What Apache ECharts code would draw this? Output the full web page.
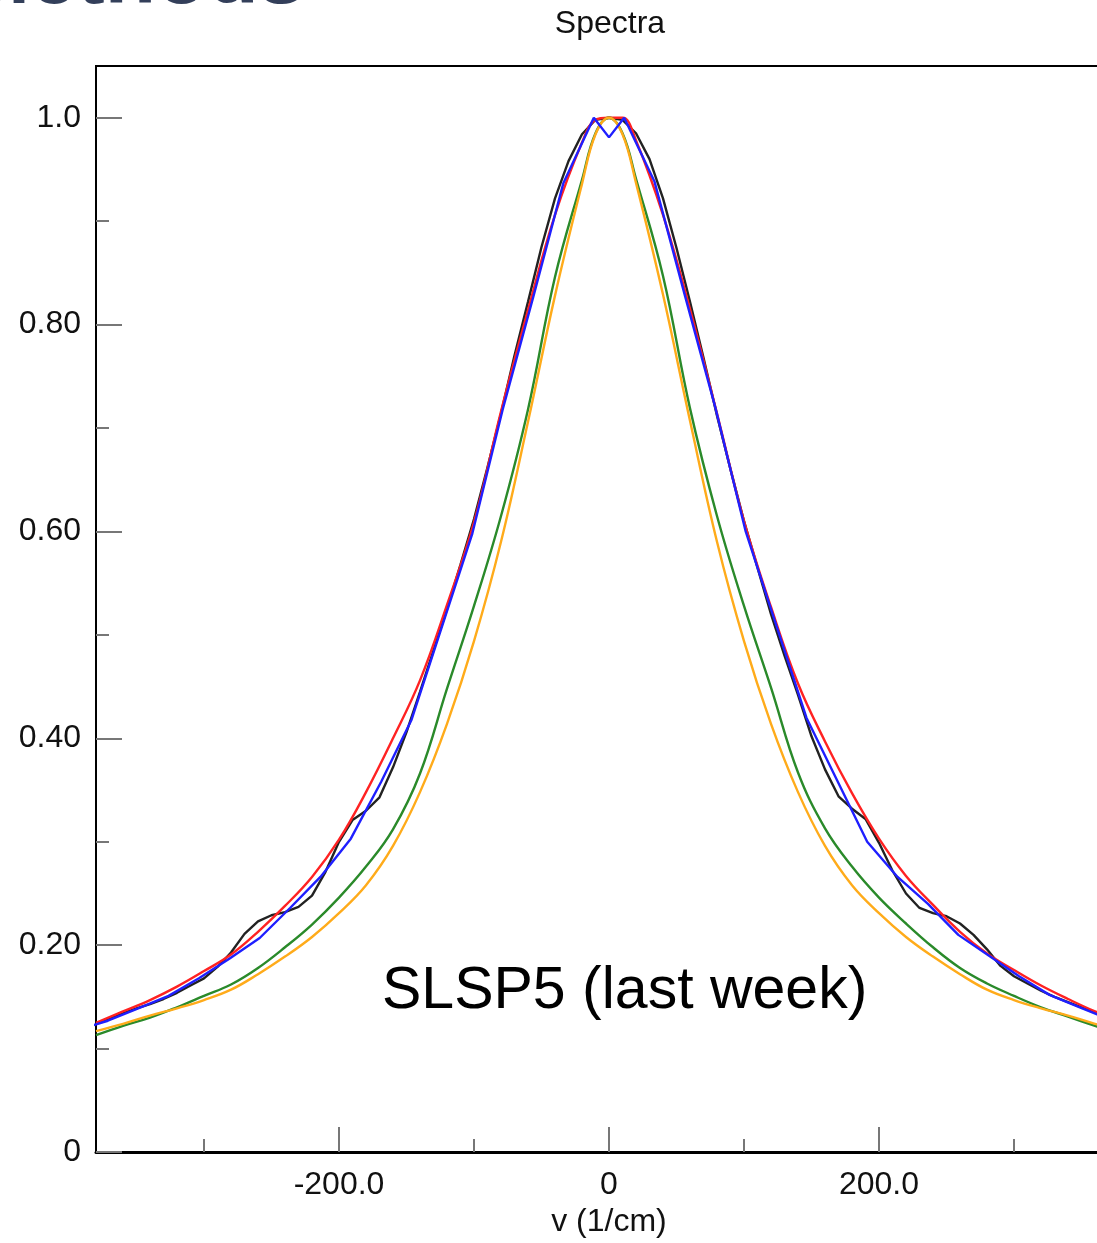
<!DOCTYPE html>
<html>
<head>
<meta charset="utf-8">
<script src="https://cdn.jsdelivr.net/npm/echarts@6/dist/echarts.min.js"></script>
<style>
  html, body { margin: 0; padding: 0; background: #fff; overflow: hidden; }
  #chart { width: 1150px; height: 1243px; }
</style>
</head>
<body>
<div id="chart"></div>
<script>
// x positions shared by the smooth model curves (red / green / orange)
const xs = [-380, -360, -340, -320, -300, -280, -260, -240, -220, -200, -180, -160, -140, -120, -100, -80, -60, -40, -20, -10,
  0, 10, 20, 40, 60, 80, 100, 120, 140, 160, 180, 200, 220, 240, 260, 280, 300, 320, 340, 360, 380];

const redVals = [0.125, 0.136, 0.147, 0.160, 0.175, 0.191, 0.213, 0.238, 0.266, 0.302, 0.348, 0.400, 0.456, 0.529, 0.609, 0.716, 0.814, 0.906, 0.976, 0.998,
  1.0, 1.0, 0.978, 0.906, 0.815, 0.714, 0.610, 0.527, 0.453, 0.397, 0.347, 0.303, 0.267, 0.239, 0.213, 0.192, 0.176, 0.161, 0.148, 0.136, 0.126];

const greenVals = [0.113, 0.122, 0.130, 0.140, 0.151, 0.162, 0.178, 0.198, 0.220, 0.246, 0.276, 0.312, 0.366, 0.448, 0.528, 0.615, 0.718, 0.846, 0.940, 0.985,
  1.0, 0.985, 0.941, 0.847, 0.719, 0.615, 0.528, 0.449, 0.367, 0.313, 0.276, 0.246, 0.221, 0.198, 0.178, 0.163, 0.151, 0.140, 0.131, 0.122, 0.113];

const orangeVals = [0.117, 0.124, 0.132, 0.139, 0.147, 0.157, 0.172, 0.189, 0.208, 0.231, 0.258, 0.296, 0.348, 0.414, 0.494, 0.590, 0.706, 0.828, 0.936, 0.984,
  1.0, 0.984, 0.937, 0.829, 0.707, 0.590, 0.494, 0.414, 0.348, 0.296, 0.258, 0.231, 0.208, 0.189, 0.172, 0.157, 0.147, 0.139, 0.132, 0.124, 0.117];

// blue: coarser polyline with a dip at the centre
const blueX = [-393.75, -371.25, -348.75, -326.25, -303.75, -281.25, -258.75, -236.25, -213.75, -191.25, -168.75, -146.25, -123.75, -101.25, -78.75, -56.25, -33.75, -11.25,
  0, 11.25, 33.75, 56.25, 78.75, 101.25, 123.75, 146.25, 168.75, 191.25, 213.75, 236.25, 258.75, 281.25, 303.75, 326.25, 348.75, 371.25, 393.75];
const blueVals = [0.118, 0.127, 0.139, 0.151, 0.168, 0.187, 0.207, 0.236, 0.266, 0.303, 0.358, 0.418, 0.508, 0.598, 0.718, 0.826, 0.937, 1.0,
  0.981, 1.0, 0.938, 0.828, 0.720, 0.600, 0.510, 0.420, 0.360, 0.300, 0.266, 0.240, 0.210, 0.190, 0.170, 0.152, 0.140, 0.128, 0.119];

// black: measured spectrum, step 10
const blackX = [-380, -370, -360, -350, -340, -330, -320, -310, -300, -290, -280, -270, -260, -250, -240, -230, -220, -210, -200, -190,
  -180, -170, -160, -150, -140, -130, -120, -110, -100, -90, -80, -70, -60, -50, -40, -30, -20, -10,
  0, 10, 20, 30, 40, 50, 60, 70, 80, 90, 100, 110, 120, 130, 140, 150, 160, 170, 180, 190,
  200, 210, 220, 230, 240, 250, 260, 270, 280, 290, 300, 310, 320, 330, 340, 350, 360, 370, 380];
const blackVals = [0.124, 0.129, 0.134, 0.139, 0.143, 0.148, 0.154, 0.161, 0.168, 0.179, 0.193, 0.211, 0.223, 0.229, 0.232, 0.237, 0.248, 0.271, 0.300, 0.321,
  0.330, 0.343, 0.372, 0.406, 0.445, 0.485, 0.525, 0.568, 0.612, 0.662, 0.714, 0.770, 0.822, 0.875, 0.922, 0.958, 0.984, 0.998,
  1.0, 0.998, 0.985, 0.960, 0.922, 0.874, 0.822, 0.768, 0.712, 0.660, 0.610, 0.565, 0.520, 0.480, 0.442, 0.402, 0.370, 0.344, 0.332, 0.322,
  0.299, 0.272, 0.250, 0.236, 0.231, 0.228, 0.221, 0.210, 0.196, 0.180, 0.170, 0.163, 0.156, 0.150, 0.145, 0.140, 0.135, 0.130, 0.125];

// ticks
const xTickValues = [-200, 0, 200];
const xTickLabels = ['-200.0', '0', '200.0'];
const xMinorTicks = [-300, -100, 100, 300];
const yTickValues = [0, 0.2, 0.4, 0.6, 0.8, 1.0];
const yTickLabels = ['0', '0.20', '0.40', '0.60', '0.80', '1.0'];
const yMinorTicks = [0.1, 0.3, 0.5, 0.7, 0.9];

const pair = (xa, ya) => xa.map((x, i) => [x, ya[i]]);
const font = 'Liberation Sans, Arial, sans-serif';

const chart = echarts.init(document.getElementById('chart'));

const line = (name, color, xa, ya, smooth) => ({
  name: name,
  type: 'line',
  data: pair(xa, ya),
  showSymbol: false,
  smooth: smooth ? 0.4 : false,
  lineStyle: { color: color, width: 2.4 },
  itemStyle: { color: color },
  clip: true
});

chart.setOption({
  animation: false,
  backgroundColor: '#ffffff',
  title: {
    text: 'Spectra',
    left: 605,
    textAlign: 'center',
    top: 3,
    textStyle: { fontFamily: font, fontSize: 32, fontWeight: 'normal', color: '#111' }
  },
  grid: {
    left: 96, right: 28, top: 66, bottom: 89,
    show: true, borderColor: '#000', borderWidth: 2
  },
  xAxis: [
    {
      type: 'value', min: -380, max: 380,
      name: 'v (1/cm)', nameLocation: 'middle', nameGap: 51,
      nameTextStyle: { fontFamily: font, fontSize: 32, color: '#111' },
      axisLine: { onZero: false, lineStyle: { color: '#000', width: 3 } },
      axisTick: { inside: true, length: 25, lineStyle: { color: '#777', width: 2 }, customValues: xTickValues },
      axisLabel: {
        customValues: xTickValues, margin: 17,
        fontFamily: font, fontSize: 32, color: '#111',
        formatter: v => { const i = xTickValues.indexOf(Math.round(v)); return i >= 0 ? xTickLabels[i] : ''; }
      },
      splitLine: { show: false }
    },
    {
      type: 'value', min: -380, max: 380, position: 'bottom',
      axisLine: { show: false, onZero: false },
      axisTick: { inside: true, length: 13, lineStyle: { color: '#777', width: 2 }, customValues: xMinorTicks },
      axisLabel: { show: false },
      splitLine: { show: false }
    }
  ],
  yAxis: [
    {
      type: 'value', min: 0, max: 1.05,
      axisLine: { show: true, onZero: false, lineStyle: { color: '#000', width: 2 } },
      axisTick: { show: true, inside: true, length: 26, lineStyle: { color: '#777', width: 2 }, customValues: yTickValues },
      axisLabel: {
        customValues: yTickValues, margin: 15,
        fontFamily: font, fontSize: 32, color: '#111',
        formatter: v => { const i = yTickValues.indexOf(Math.round(v * 100) / 100); return i >= 0 ? yTickLabels[i] : ''; }
      },
      splitLine: { show: false }
    },
    {
      type: 'value', min: 0, max: 1.05, position: 'left',
      axisLine: { show: false, onZero: false },
      axisTick: { show: true, inside: true, length: 13, lineStyle: { color: '#777', width: 2 }, customValues: yMinorTicks },
      axisLabel: { show: false },
      splitLine: { show: false }
    }
  ],
  graphic: [
    {
      type: 'text', left: -40, top: -62,
      style: { text: 'Methods', fontFamily: font, fontSize: 84, fontWeight: 'bold', fill: '#333f5a' }
    },
    {
      type: 'text', left: 382, top: 962,
      style: { text: 'SLSP5 (last week)', fontFamily: font, fontSize: 59, fill: '#000' }
    }
  ],
  series: [
    line('measured', '#222222', blackX, blackVals, false),
    line('model A', '#ff2222', xs, redVals, true),
    line('model B', '#2a8a2a', xs, greenVals, true),
    line('model C', '#ffab1a', xs, orangeVals, true),
    line('model D', '#1f1fff', blueX, blueVals, false)
  ]
});
</script>
</body>
</html>
